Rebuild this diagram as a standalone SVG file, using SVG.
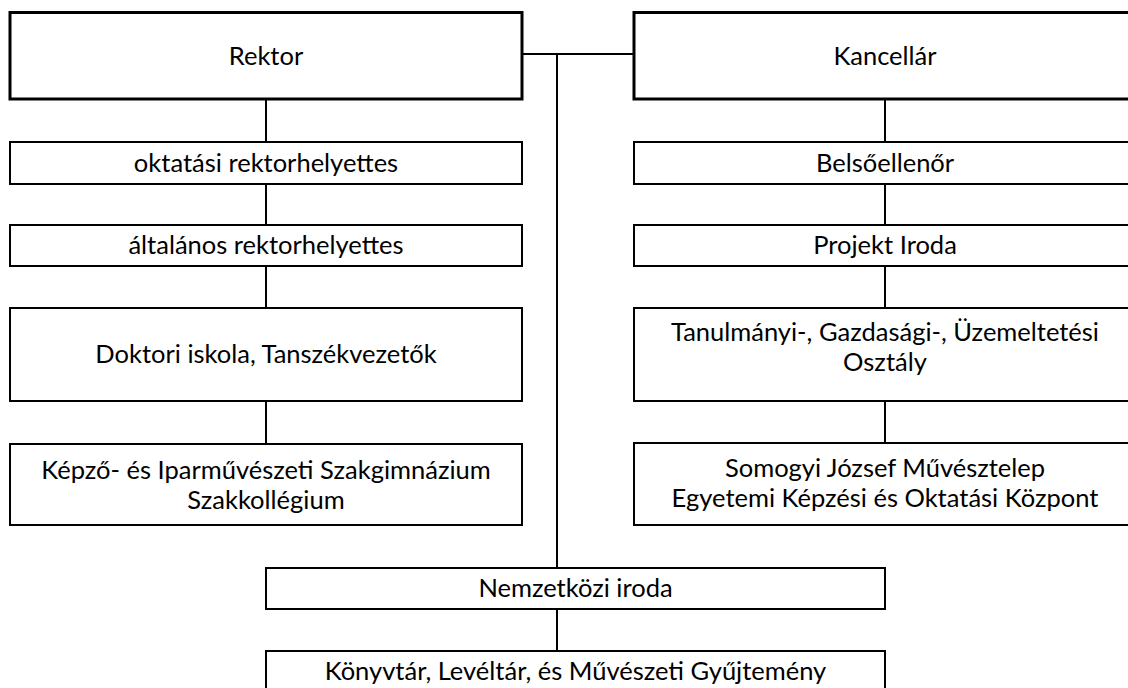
<svg xmlns="http://www.w3.org/2000/svg" width="1128" height="688" viewBox="0 0 1128 688">
<style>
.box{fill:#fff;stroke:#000;stroke-width:2}
.thick{stroke-width:3}
.c{fill:none;stroke:#000;stroke-width:2}
text{font-family:Lato,"Open Sans",sans-serif;font-size:25.5px;fill:#000;text-anchor:middle}
</style>
<rect width="1128" height="688" fill="#fff"/>
<g id="connectors">
<path class="c" d="M522 54H634M557 54V568"/>
<path class="c" d="M266 99V142M266 184V225M266 266V308M266 401V444"/>
<path class="c" d="M885 99V142M885 184V225M885 266V308M885 401V443"/>
<path class="c" d="M557 609V651"/>
</g>
<g id="rektor"><rect class="box thick" x="10" y="12.5" width="512" height="86.5"/><text x="266" y="65">Rektor</text></g>
<g id="kancellar"><rect class="box thick" x="634" y="12.5" width="502" height="86.5"/><text x="885" y="65">Kancellár</text></g>
<g id="oktatasi"><rect class="box" x="10" y="142" width="512" height="42"/><text x="266" y="172">oktatási rektorhelyettes</text></g>
<g id="altalanos"><rect class="box" x="10" y="225" width="512" height="41"/><text x="266" y="254">általános rektorhelyettes</text></g>
<g id="doktori"><rect class="box" x="10" y="308" width="512" height="93"/><text x="266" y="363">Doktori iskola, Tanszékvezetők</text></g>
<g id="kepzo"><rect class="box" x="10" y="444" width="512" height="81"/><text x="266" y="479">Képző- és Iparművészeti Szakgimnázium</text><text x="266" y="509">Szakkollégium</text></g>
<g id="belso"><rect class="box" x="634" y="142" width="502" height="42"/><text x="885" y="172">Belsőellenőr</text></g>
<g id="projekt"><rect class="box" x="634" y="225" width="502" height="41"/><text x="885" y="254">Projekt Iroda</text></g>
<g id="tanulmanyi"><rect class="box" x="634" y="308" width="502" height="93"/><text x="885" y="341">Tanulmányi-, Gazdasági-, Üzemeltetési</text><text x="885" y="371">Osztály</text></g>
<g id="somogyi"><rect class="box" x="634" y="443" width="502" height="82"/><text x="885" y="477">Somogyi József Művésztelep</text><text x="885" y="507">Egyetemi Képzési és Oktatási Központ</text></g>
<g id="nemzetkozi"><rect class="box" x="266" y="568" width="619" height="41"/><text x="575.5" y="597">Nemzetközi iroda</text></g>
<g id="konyvtar"><rect class="box" x="266" y="651" width="619" height="50"/><text x="575.5" y="680">Könyvtár, Levéltár, és Művészeti Gyűjtemény</text></g>
</svg>
